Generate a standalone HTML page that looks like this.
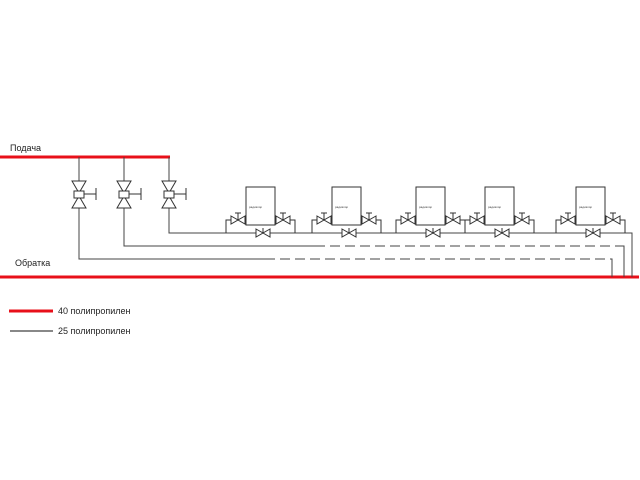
<!DOCTYPE html>
<html><head><meta charset="utf-8"><style>
html,body{margin:0;padding:0;background:#fff;width:640px;height:480px;overflow:hidden}
svg{display:block}
text{font-family:"Liberation Sans",sans-serif}
</style></head><body>
<svg width="640" height="480" viewBox="0 0 640 480" xmlns="http://www.w3.org/2000/svg">
<defs>
<g id="rad" stroke="#333" stroke-width="1" fill="#fff">
  <path d="M-20 233 V220 H0 M29 220 H49 V233" fill="none"/>
  <rect x="0" y="187" width="29" height="38"/>
  <path d="M-15 216 L-8 220 L-15 224 Z M-1 216 L-8 220 L-1 224 Z"/>
  <path d="M-8 220 V213 M-11 213 H-5" fill="none"/>
  <path d="M30 216 L37 220 L30 224 Z M44 216 L37 220 L44 224 Z"/>
  <path d="M37 220 V213 M34 213 H40" fill="none"/>
  <path d="M10 229 L17 233 L10 237 Z M24 229 L17 233 L24 237 Z"/>
  <path d="M17 233 V228" fill="none"/>
</g>
<g id="bv" stroke="#333" stroke-width="1" fill="#fff">
  <path d="M-7 181 H7 L0 193 Z M-7 208 H7 L0 196 Z"/>
  <rect x="-5" y="191" width="10" height="7"/>
  <path d="M5 194 H17 M17 188 V200" fill="none"/>
</g>
</defs>
<line x1="0" y1="157" x2="170" y2="157" stroke="#e8101a" stroke-width="3"/>
<line x1="0" y1="277" x2="639" y2="277" stroke="#e8101a" stroke-width="3"/>
<g stroke="#444" stroke-width="1" fill="none">
  <path d="M79 157 V259 H265 M124 157 V246 H315 M169 157 V233 H632 V277"/>
  <path d="M315 246 H624 V277" stroke-dasharray="10,5"/>
  <path d="M265 259 H612 V277" stroke-dasharray="10,5"/>
  <path d="M624 246 V277 M612 259 V277"/>
</g>
<use href="#bv" x="79"/><use href="#bv" x="124"/><use href="#bv" x="169"/>
<use href="#rad" x="246"/><use href="#rad" x="332"/><use href="#rad" x="416"/><use href="#rad" x="485"/><use href="#rad" x="576"/>
<g font-size="3" fill="#333">
<text x="249" y="208">радиатор</text><text x="335" y="208">радиатор</text><text x="419" y="208">радиатор</text><text x="488" y="208">радиатор</text><text x="579" y="208">радиатор</text>
</g>
<text x="10" y="151" font-size="9" fill="#222">Подача</text>
<text x="15" y="266" font-size="9" fill="#222">Обратка</text>
<line x1="9" y1="311" x2="53" y2="311" stroke="#e8101a" stroke-width="3"/>
<line x1="10" y1="331" x2="53" y2="331" stroke="#111" stroke-width="1"/>
<text x="58" y="314" font-size="9" fill="#222">40 полипропилен</text>
<text x="58" y="334" font-size="9" fill="#222">25 полипропилен</text>
</svg>
</body></html>
